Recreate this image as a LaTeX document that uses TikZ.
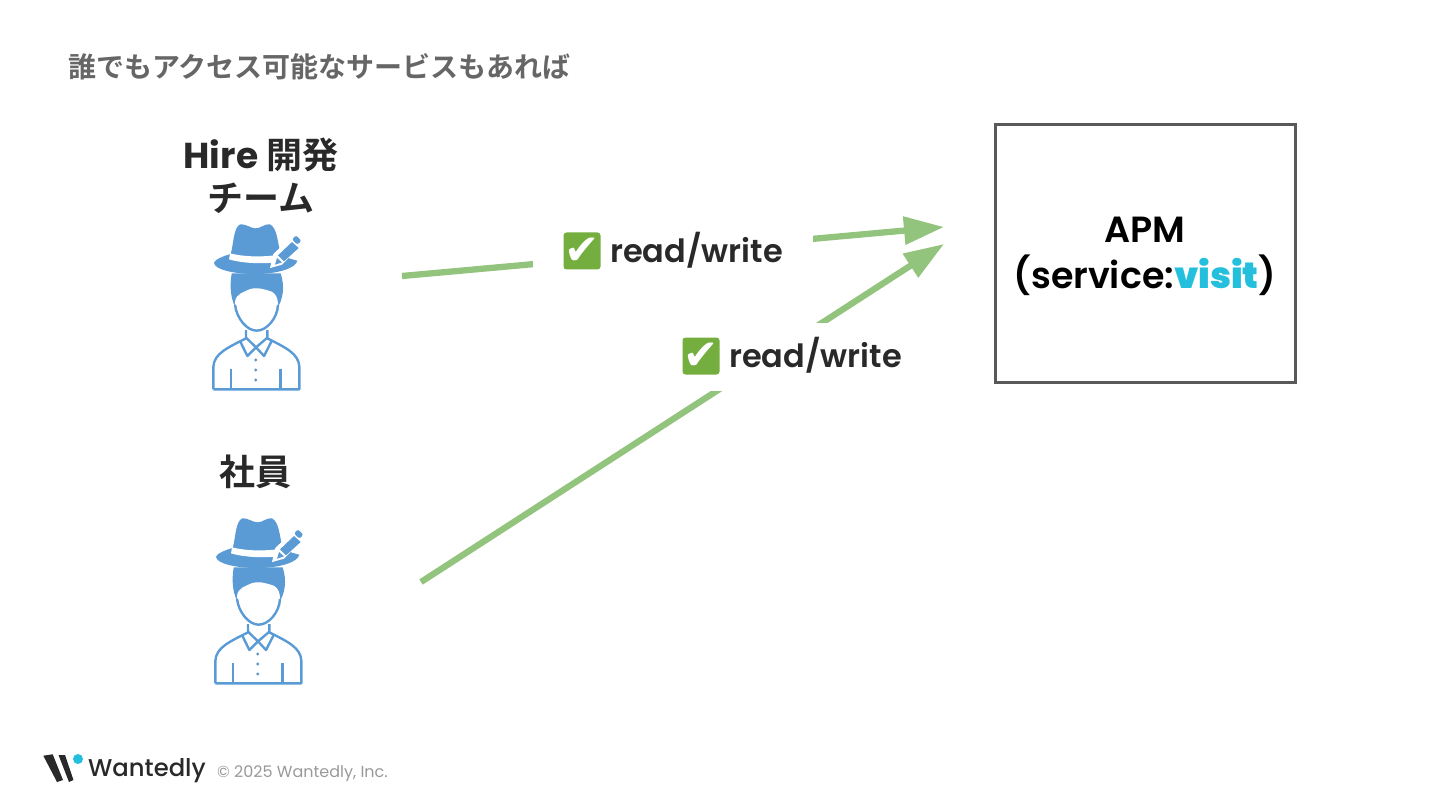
\documentclass[tikz,border=0pt]{standalone}
\usepackage{fontspec}
\setmainfont{Poppins}[BoldFont={Poppins SemiBold}]
\newfontfamily\popm{Poppins Medium}
\newfontfamily\popbold{Poppins Bold}
\newfontfamily\jpb{Noto Sans CJK JP Bold}
\newfontfamily\djfont{DejaVu Sans}
\definecolor{arrowgreen}{HTML}{93C47D}
\definecolor{iconblue}{HTML}{5B9BD5}
\definecolor{inkdark}{HTML}{292929}
\definecolor{titlegray}{HTML}{666666}
\definecolor{boxgray}{HTML}{595959}
\definecolor{visitblue}{HTML}{25BFDE}
\definecolor{footgray}{HTML}{999999}
\definecolor{checkgreen}{HTML}{74AE3F}
\usetikzlibrary{arrows.meta}
\tikzset{
  x=1pt,y=-1pt,
  flow/.style={draw=arrowgreen,line width=6.3pt,-{Triangle[length=40pt,width=27pt,fill=arrowgreen]}},
  lbl/.style={fill=white,inner sep=0pt,minimum width=280pt,minimum height=68pt},
  checkbox/.style={fill=checkgreen,rounded corners=3pt,minimum size=37pt,inner sep=0pt,text=white,font=\djfont\fontsize{42}{42}\selectfont},
  rw/.style={text=inkdark,font=\bfseries\fontsize{32}{36}\selectfont,inner sep=0pt},
  heading/.style={text=inkdark,font=\jpb\fontsize{36}{43}\selectfont,align=center,inner sep=0pt},
  person/.pic={
    \begin{scope}[shift={(-65.67pt,96.67pt)},x=0.3333pt,y=-0.3333pt]
      % hair
      \fill[iconblue] (125,190) .. controls (118,230) and (122,275) .. (142,300) -- (258,300) .. controls (280,270) and (285,230) .. (272,190) -- cycle;
      % face
      \fill[white] (135,275) .. controls (138,250) and (165,245) .. (178,238) .. controls (200,230) and (225,238) .. (245,245) .. controls (258,252) and (264,265) .. (264,285) .. controls (262,325) and (230,362) .. (200,362) .. controls (170,362) and (135,320) .. (135,275) -- cycle;
      \draw[iconblue,line width=2.4pt] (135,285) .. controls (140,325) and (170,362) .. (200,362) .. controls (230,362) and (262,325) .. (264,285);
      % crown and brim
      \fill[iconblue] (122,132) .. controls (132,95) and (130,55) .. (150,43) .. controls (165,40) and (182,55) .. (197,55) .. controls (212,55) and (225,40) .. (240,43) .. controls (262,55) and (262,95) .. (272,132) -- (300,146) -- (322,152) .. controls (318,175) and (260,192) .. (197,192) .. controls (130,192) and (72,178) .. (72,158) .. controls (75,148) and (100,138) .. (122,132) -- cycle;
      % band
      \fill[white] (120,130) .. controls (160,140) and (210,142) .. (262,135) -- (248,158) .. controls (200,162) and (150,158) .. (117,148) -- cycle;
      % pencil
      \fill[white] (240,174) -- (250,132) -- (320,64) -- (348,92) -- (276,164) -- cycle;
      \fill[iconblue] (255,164) -- (261,144) -- (276,157) -- cycle;
      \fill[iconblue] (264,136) -- (306,96) -- (326,114) -- (282,154) -- cycle;
      \fill[iconblue,rounded corners=2pt] (306,88) -- (318,76) -- (334,92) -- (322,104) -- cycle;
      % shirt
      \begin{scope}[draw=iconblue,line width=2.4pt,line join=round]
        \draw (70,538) -- (328,538) -- (328,470) .. controls (326,430) and (285,412) .. (232,385) -- (232,360);
        \draw (70,538) -- (70,470) .. controls (72,430) and (115,412) .. (168,385) -- (168,360);
        \draw (123,478) -- (123,538) (272,478) -- (272,538);
        \draw (168,383) -- (198,412) -- (232,383);
        \draw (150,393) -- (172,438) -- (198,412) -- (222,438) -- (245,393);
      \end{scope}
      \fill[iconblue!80!gray] (197,450) circle (5) (197,480) circle (5) (197,510) circle (5);
    \end{scope}
  }
}
\begin{document}
\begin{tikzpicture}
\useasboundingbox (0,0) rectangle (1440,810);
% title
\node[anchor=west,inner sep=0pt,text=titlegray,font=\jpb\fontsize{28}{30}\selectfont] (title) at (68,67) {誰でもアクセス可能なサービスもあれば};
% actors
\node[heading] (hire) at (261,176) {{\popbold Hire} 開発\\チーム};
\pic at (255.7,306.7) {person};
\coordinate (hirefrom) at (402,276);
\node[heading] (staff) at (255,472) {社員};
\pic at (257.7,600.7) {person};
\coordinate (stafffrom) at (421,582);
% target
\node[draw=boxgray,line width=3pt,minimum width=300pt,minimum height=257pt,inner sep=0pt] (apm) at (1145,253.5) {};
\node[inner sep=0pt,align=center,font=\bfseries\fontsize{36.4}{46}\selectfont,text=black] (apmtext) at (1145,256.5) {APM\\(service:\textcolor{visitblue}{\popbold visit})};
\coordinate (apmin1) at (944,227);
\coordinate (apmin2) at (944,244);
% connectors
\draw[flow] (hirefrom) -- (apmin1);
\draw[flow] (stafffrom) -- (apmin2);
% labels
\node[lbl] (l1) at (673,250) {};
\node[checkbox] (c1) at (582,251) {✔};
\node[rw,anchor=west] (t1) at (610,250) {read/write};
\node[lbl] (l2) at (791,357) {};
\node[checkbox] (c2) at (701,356) {✔};
\node[rw,anchor=west] (t2) at (729,355) {read/write};
% footer logo
\fill[inkdark] (43.3,755.7) -- (52.7,754.3) -- (63,780) -- (57,782) -- cycle;
\fill[inkdark] (58.5,755) -- (65,755) -- (73.5,780) -- (69,782) -- cycle;
\fill[visitblue] (78,759) circle (5);
\node[anchor=west,inner sep=0pt,text=inkdark,font=\popm\fontsize{24.3}{30}\selectfont] (brand) at (88,771) {Wantedly};
\node[anchor=west,inner sep=0pt,text=footgray,font=\fontsize{16}{20}\selectfont] (copy) at (217,774) {© 2025 Wantedly, Inc.};
\end{tikzpicture}
\end{document}
